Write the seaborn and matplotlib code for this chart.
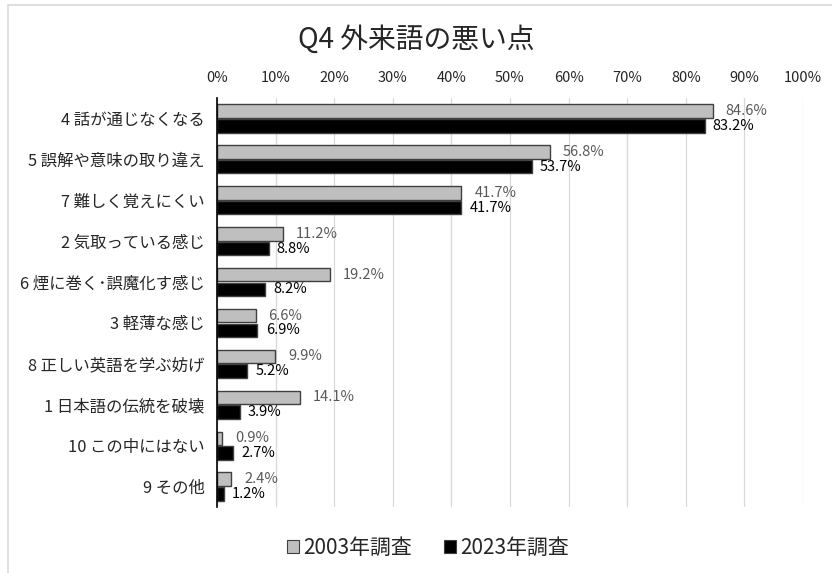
import numpy as np
import pandas as pd
import matplotlib
matplotlib.use("Agg")
import matplotlib.pyplot as plt
from matplotlib.patches import Patch, Rectangle
import seaborn as sns

# --------------------------------------------------------------------
# Data
# --------------------------------------------------------------------

items = [
    "4 話が通じなくなる",
    "5 誤解や意味の取り違え",
    "7 難しく覚えにくい",
    "2 気取っている感じ",
    "6 煙に巻く･誤魔化す感じ",
    "3 軽薄な感じ",
    "8 正しい英語を学ぶ妨げ",
    "1 日本語の伝統を破壊",
    "10 この中にはない",
    "9 その他",
]
years = ["2003年調査", "2023年調査"]
vals_2003 = [84.6, 56.8, 41.7, 11.2, 19.2, 6.6, 9.9, 14.1, 0.9, 2.4]
vals_2023 = [83.2, 53.7, 41.7, 8.8, 8.2, 6.9, 5.2, 3.9, 2.7, 1.2]
xticks = list(range(0, 101, 10))

GRAY = "#bfbfbf"
BLACK = "#000000"

df = pd.DataFrame({
    "item": items * 2,
    "year": [years[0]] * len(items) + [years[1]] * len(items),
    "value": vals_2003 + vals_2023,
})

# --------------------------------------------------------------------
# Plot
# --------------------------------------------------------------------

sns.set_style("white")
plt.rcParams["font.family"] = ["Noto Sans CJK JP", "DejaVu Sans"]

fig = plt.figure(figsize=(8.32, 5.73), dpi=100)
ax = fig.add_axes([217 / 832, 1 - 507 / 573, (803 - 217) / 832, (507 - 98) / 573])

sns.barplot(data=df, y="item", x="value", hue="year", orient="h",
            palette=[GRAY, BLACK], width=0.72, gap=0.08,
            edgecolor="#404040", linewidth=1.0, legend=False, ax=ax)

ax.set_xlim(0, 100)
ax.set_xticks(xticks)
ax.set_xticklabels([f"{t}%" for t in xticks], fontsize=10.5)
ax.xaxis.tick_top()
ax.tick_params(axis="x", length=0, pad=9)
ax.tick_params(axis="y", length=0, pad=9, labelsize=11.8)
ax.set_xlabel("")
ax.set_ylabel("")
ax.grid(axis="x", color="#d9d9d9", linewidth=0.9)
ax.set_axisbelow(True)
for side in ["top", "right", "bottom"]:
    ax.spines[side].set_visible(False)
ax.spines["left"].set_color("black")
ax.spines["left"].set_linewidth(1.2)

# value labels
label_colors = ["#595959", "black"]
offsets = [2.2, 1.4]
for container, col, off in zip(ax.containers, label_colors, offsets):
    for bar in container:
        w = bar.get_width()
        y = bar.get_y() + bar.get_height() / 2
        ax.text(w + off, y, f"{w:.1f}%", color=col, fontsize=10.5,
                va="center", ha="left")

fig.suptitle("Q4 外来語の悪い点", y=1 - 40 / 573, va="center", fontsize=20)

handles = [Patch(facecolor=GRAY, edgecolor="#404040", linewidth=0.8),
           Patch(facecolor=BLACK, edgecolor="#404040", linewidth=0.8)]
fig.legend(handles, years, loc="center", bbox_to_anchor=(428 / 832, 1 - 548 / 573),
           ncol=2, frameon=False, fontsize=15, handlelength=0.6, handleheight=0.6,
           handletextpad=0.2, columnspacing=1.5)

# outer chart frame (runs off the right and bottom edges)
fig.patches.append(Rectangle((8 / 832, -0.1), 1.2, 1 - 5 / 573 + 0.1,
                             transform=fig.transFigure, fill=False,
                             edgecolor="#d9d9d9", linewidth=1.2))

fig.savefig("out.png", dpi=100)
